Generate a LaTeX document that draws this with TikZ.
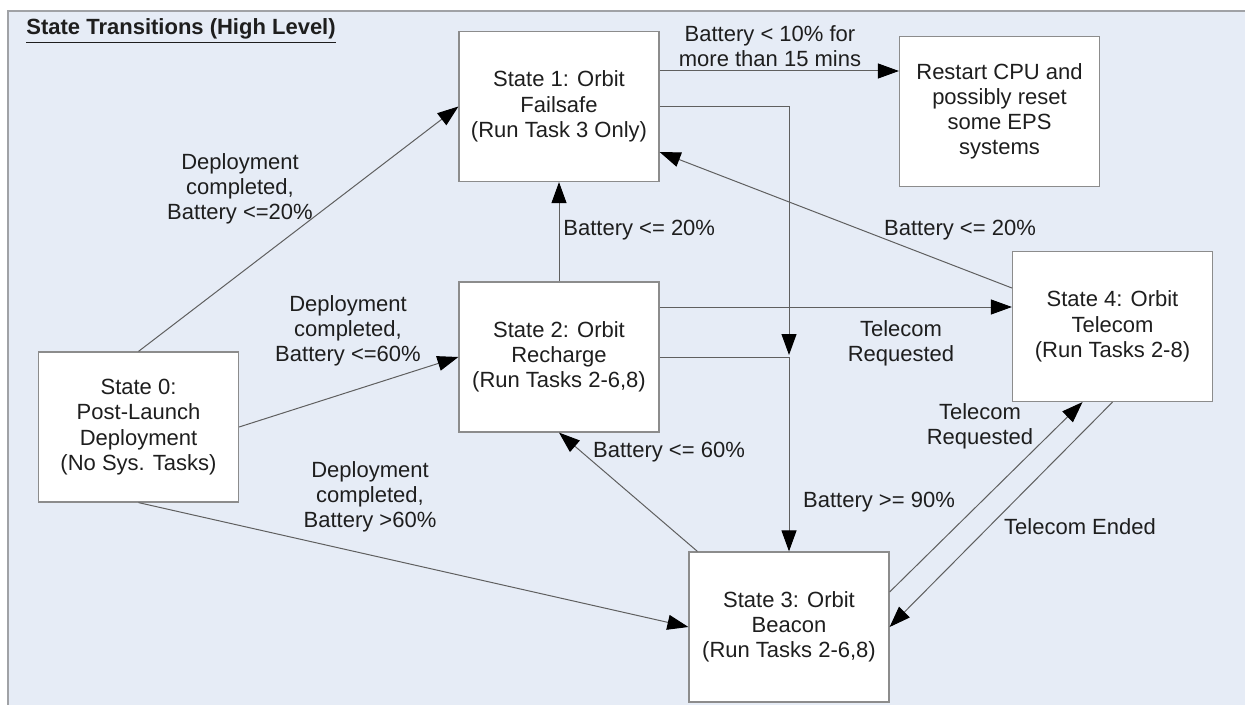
\documentclass[tikz,border=0pt]{standalone}
\usepackage{fontspec}
\setmainfont{Liberation Sans}
\usetikzlibrary{arrows.meta,positioning}
\definecolor{paneblue}{RGB}{230,236,246}
\definecolor{framegray}{RGB}{160,162,166}
\definecolor{boxgray}{RGB}{140,140,140}
\definecolor{linkgray}{RGB}{95,95,95}
\definecolor{txtdark}{RGB}{30,30,30}
\tikzset{
  state/.style={draw=boxgray,fill=white,line width=0.6pt,minimum width=100pt,minimum height=75pt,
                inner sep=0pt,align=center,font=\fontsize{11}{12.6}\selectfont,text=txtdark},
  trans/.style={linkgray,line width=0.5pt,-{Triangle[length=10.5pt,width=7.5pt,color=black]}},
  cond/.style={inner sep=0pt,align=center,font=\fontsize{11}{12.6}\selectfont,text=txtdark},
  heading/.style={inner sep=0pt,font=\fontsize{11}{13}\selectfont\bfseries,text=txtdark}
}

\begin{document}
\begin{tikzpicture}[x=0.5pt,y=-0.5pt]
  \useasboundingbox (0,0) rectangle (1245,705);
  % Panel and its frame.
  \fill[paneblue] (8,11) rectangle (1245,705);
  \draw[framegray,line width=1pt] (8,705)--(8,11)--(1245,11);
  \node[heading,anchor=base west] (title) at (26,35) {\underline{State Transitions (High Level)}};

  % States.
  \node[state] (s1) at (559,106.5) {State 1: Orbit\\Failsafe\\(Run Task 3 Only)};
  \node[state] (rst) at (999.5,111.5) {Restart CPU and\\possibly reset\\some EPS\\systems};
  \node[state] (s2) at (559,357) {State 2: Orbit\\Recharge\\(Run Tasks 2-6,8)};
  \node[state] (s4) at (1112.5,326.5) {State 4: Orbit\\Telecom\\(Run Tasks 2-8)};
  \node[state] (s0) at (138.5,427) {State 0:\\Post-Launch\\Deployment\\(No Sys. Tasks)};
  \node[state] (s3) at (789,627) {State 3: Orbit\\Beacon\\(Run Tasks 2-6,8)};
  \coordinate (join) at (789,355);

  % Transitions out of state 0.
  \draw[trans] (s0.north)--(s1.west);
  \draw[trans] (s0.east)--(s2.west);
  \draw[trans] (s0.south)--(s3.west);
  \node[cond] (c01) at (240,189) {Deployment\\completed,\\Battery <=20\%};
  \node[cond] (c02) at (348,331) {Deployment\\completed,\\Battery <=60\%};
  \node[cond] (c03) at (370,497) {Deployment\\completed,\\Battery >60\%};

  % Failsafe entry and exit.
  \draw[trans] (s2.north)--(s1.south);
  \node[cond,anchor=west] (c21) at (563,230) {Battery <= 20\%};
  \draw[trans] ([yshift=19.25pt]s4.west)--([yshift=-22.75pt]s1.east);
  \node[cond] (c41) at (960,230) {Battery <= 20\%};
  \draw[trans] ([yshift=17.75pt]s1.east)--([yshift=17.75pt]s1.east -| rst.west);
  \node[cond] (c1r) at (770,46) {Battery < 10\% for\\more than 15 mins};

  % Charged again: back to beacon.
  \draw[trans] (s1.east)-|(join);
  \draw[trans] (s2.east)-|(s3.north);
  \node[cond] (c3) at (879,502) {Battery >= 90\%};
  \draw[trans] ([xshift=4.5pt]s3.north west)--(s2.south);
  \node[cond] (c32) at (669,452) {Battery <= 60\%};

  % Telecom.
  \draw[trans] ([yshift=25pt]s2.east)--([yshift=25pt]s2.east -| s4.west);
  \node[cond] (c24) at (901,343) {Telecom\\Requested};
  \draw[trans] ([yshift=17.5pt]s3.east)--([xshift=-15pt]s4.south);
  \node[cond] (c34) at (980,426) {Telecom\\Requested};
  \draw[trans] (s4.south)--(s3.east);
  \node[cond] (c43) at (1080,527) {Telecom Ended};
\end{tikzpicture}
\end{document}
